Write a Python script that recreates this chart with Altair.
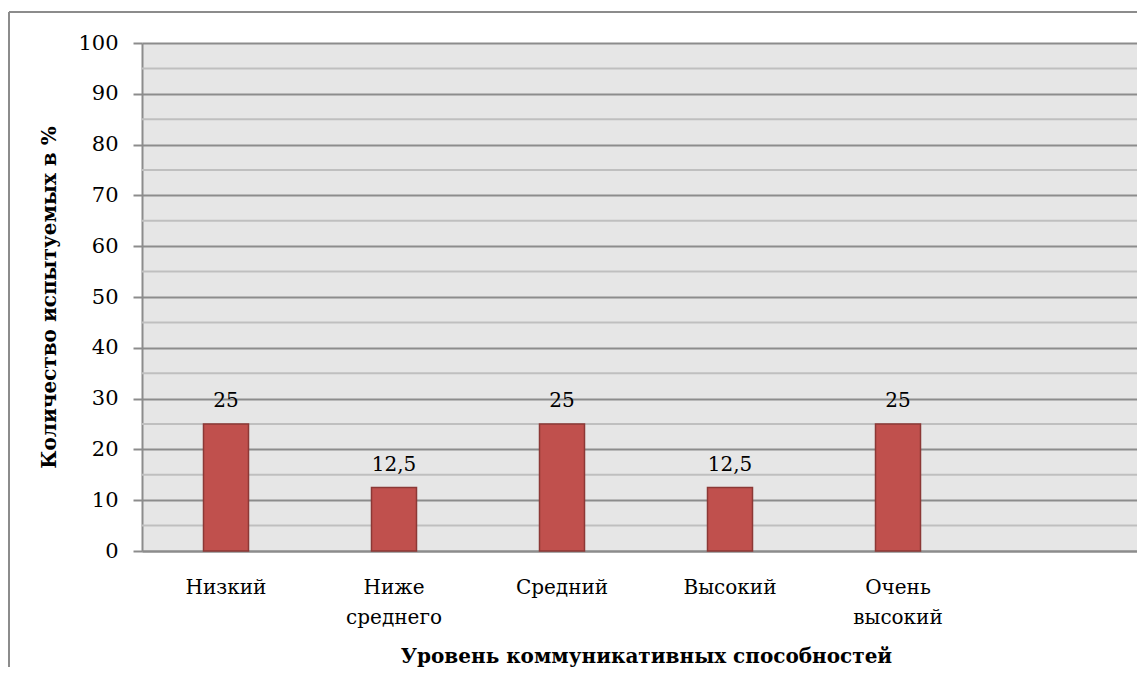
import altair as alt
import pandas as pd

categories = ["Низкий", "Ниже среднего", "Средний", "Высокий", "Очень высокий"]
values = [25, 12.5, 25, 12.5, 25]
value_labels = ["25", "12,5", "25", "12,5", "25"]
slots = categories + [" "]
y_major = [0, 10, 20, 30, 40, 50, 60, 70, 80, 90, 100]
y_minor = [5, 15, 25, 35, 45, 55, 65, 75, 85, 95]

x_title = "Уровень коммуникативных способностей"
y_title = "Количество испытуемых в  %"

FONT = "DejaVu Serif"
GRID_DARK = "#8c8c8c"
GRID_LIGHT = "#bfbfbf"
W = 995
H = 508

df = pd.DataFrame({"cat": categories, "val": values, "lbl": value_labels})
minor_df = pd.DataFrame({"val": y_minor})
frame_df = pd.DataFrame({"k": [0]})

x_scale = alt.Scale(domain=slots, paddingInner=0, paddingOuter=0, range=[0, 1008])
y_scale = alt.Scale(domain=[0, 100], nice=False)

x_enc = alt.X(
    "cat:N",
    sort=slots,
    scale=x_scale,
    axis=alt.Axis(
        title=x_title,
        labelExpr="split(datum.label, ' ')",
        labelAngle=0,
        labelFont=FONT,
        labelFontSize=20,
        labelColor="black",
        labelPadding=26,
        labelLineHeight=30,
        ticks=False,
        tickSize=0,
        grid=False,
        domainColor=GRID_DARK,
        domainWidth=2,
        titleFont=FONT,
        titleFontSize=20,
        titleFontWeight="bold",
        titleColor="black",
        titleX=504,
        titleY=111,
        titleBaseline="alphabetic",
        titleAlign="center",
    ),
)

y_enc = alt.Y(
    "val:Q",
    scale=y_scale,
    axis=alt.Axis(
        title=y_title,
        values=y_major,
        labelFont=FONT,
        labelFontSize=21,
        labelColor="black",
        labelPadding=15,
        tickSize=9,
        tickColor=GRID_DARK,
        tickWidth=2,
        grid=True,
        gridColor=GRID_DARK,
        gridWidth=2,
        domainColor=GRID_DARK,
        domainWidth=2,
        titleFont=FONT,
        titleFontSize=20,
        titleFontWeight="bold",
        titleColor="black",
        titleX=-87,
        titleY=H / 2,
        titleBaseline="alphabetic",
        titleAlign="center",
    ),
)

minor = alt.Chart(minor_df).mark_rule(color=GRID_LIGHT, strokeWidth=2).encode(
    y=alt.Y("val:Q", scale=y_scale)
)

bars = alt.Chart(df).mark_bar(
    size=45, color="#c0504d", stroke="#8c3836", strokeWidth=1.5
).encode(x=x_enc, y=y_enc)

texts = alt.Chart(df).mark_text(
    font=FONT, fontSize=20, color="black", baseline="alphabetic", dy=-17
).encode(x=alt.X("cat:N", sort=slots, scale=x_scale), y=alt.Y("val:Q", scale=y_scale), text="lbl:N")

frame_left = alt.Chart(frame_df).mark_rule(color=GRID_DARK, strokeWidth=2).encode(
    x=alt.value(-133), y=alt.value(-31), y2=alt.value(700)
)
frame_top = alt.Chart(frame_df).mark_rule(color=GRID_DARK, strokeWidth=2).encode(
    x=alt.value(-133), x2=alt.value(1100), y=alt.value(-31)
)

chart = (
    alt.layer(minor, bars, texts, frame_left, frame_top)
    .properties(
        width=W,
        height=H,
        autosize=alt.AutoSizeParams(type="none"),
        padding={"left": 134, "top": 35, "right": 0, "bottom": 116},
        background="white",
    )
    .configure_view(fill="#e6e6e6", strokeOpacity=0)
)

chart.save("out.html", embed_options={"renderer": "svg", "actions": False})
